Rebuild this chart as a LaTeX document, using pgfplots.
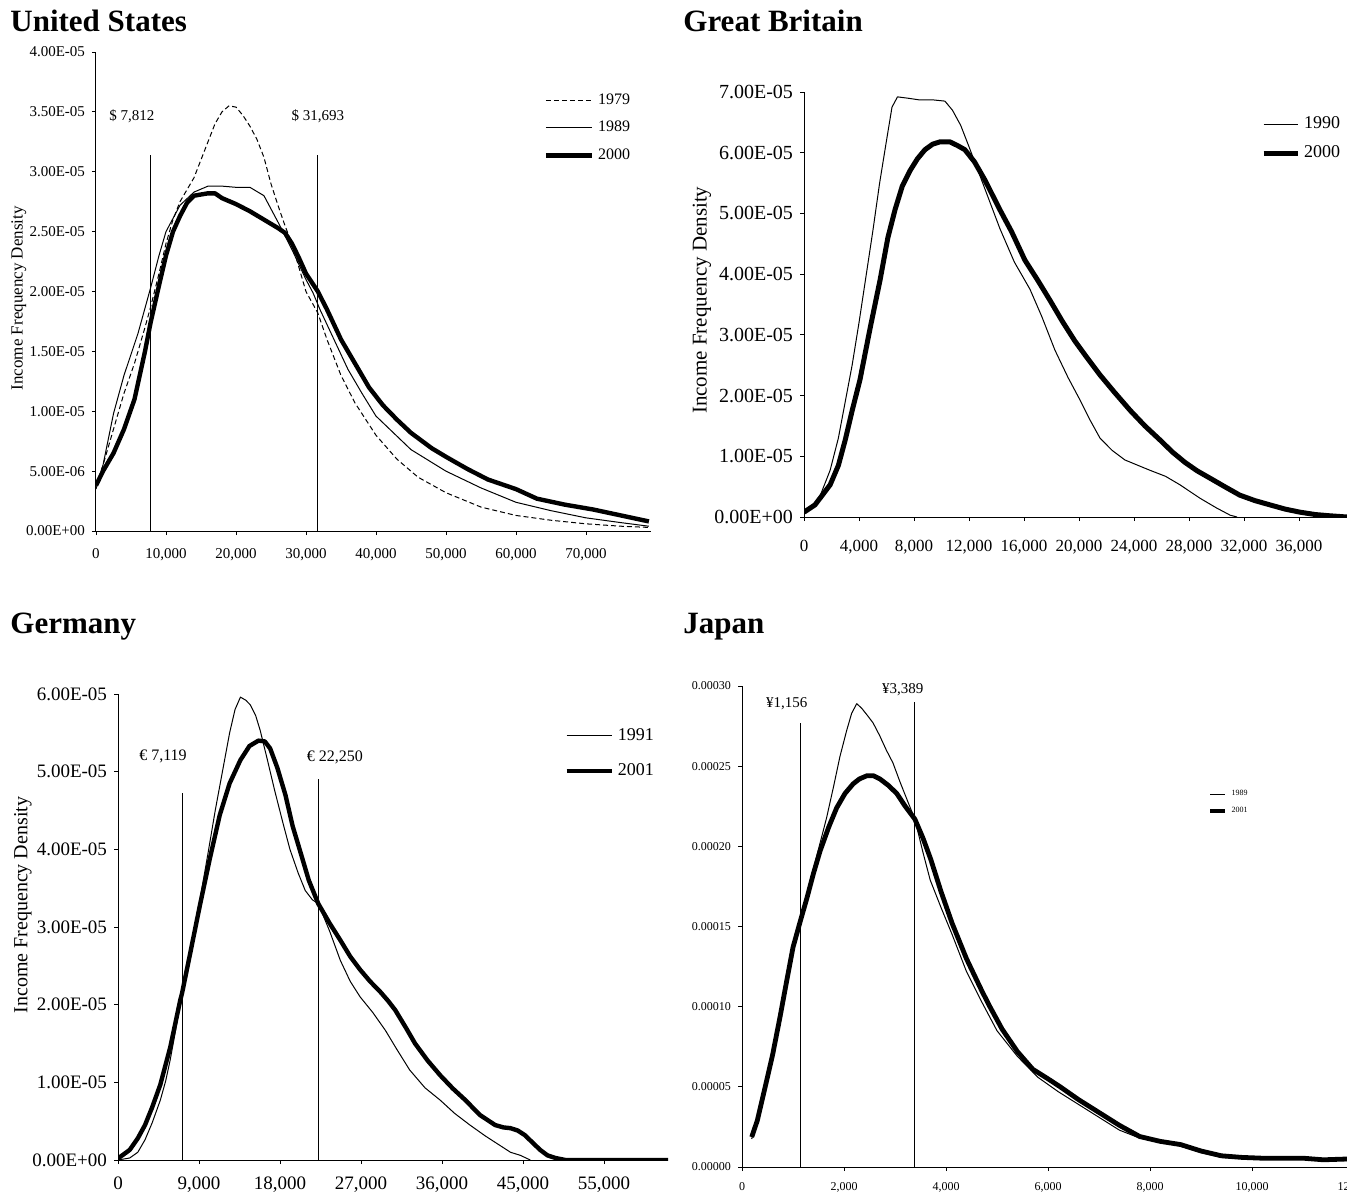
\documentclass[border=0pt]{standalone}
\usepackage{pgfplots}
\pgfplotsset{compat=1.18}
\usepackage{fontspec}
\setmainfont{Liberation Serif}

\pgfplotsset{
  excel/.style={
    scale only axis,
    anchor=south west,
    axis x line=bottom, axis y line=left,
    axis line style={-, black, line width=0.5pt},
    tick align=outside, major tick length=2pt,
    tick style={black, line width=0.4pt},
    scaled x ticks=false, scaled y ticks=false,
    ymin=0, xmin=0,
    legend cell align=left,
    line join=round,
  },
  thin/.style={black, line width=0.5pt},
  thick/.style={black, line width=2.2pt},
  vline/.style={black, line width=0.5pt, forget plot},
}

\begin{document}
\begin{tikzpicture}
\path[use as bounding box] (0,0) rectangle (673.5pt,-596.5pt);

% titles
\node[anchor=base west, font=\fontsize{15.5}{18}\selectfont\bfseries, inner sep=0pt] at (5pt,-16pt) {United States};
\node[anchor=base west, font=\fontsize{15.5}{18}\selectfont\bfseries, inner sep=0pt] at (341.5pt,-16pt) {Great Britain};
\node[anchor=base west, font=\fontsize{15.5}{18}\selectfont\bfseries, inner sep=0pt] at (5pt,-316.5pt) {Germany};
\node[anchor=base west, font=\fontsize{15.5}{18}\selectfont\bfseries, inner sep=0pt] at (341.5pt,-316.5pt) {Japan};

% ---------------- United States
\begin{axis}[excel,
  at={(48pt,-265.5pt)}, width=277.5pt, height=239.5pt,
  xmax=79300, ymax=0.00004,
  xtick={0,10000,20000,30000,40000,50000,60000,70000},
  xticklabels={0,{10,000},{20,000},{30,000},{40,000},{50,000},{60,000},{70,000}},
  ytick={0,0.000005,0.00001,0.000015,0.00002,0.000025,0.00003,0.000035,0.00004},
  yticklabels={0.00E+00,5.00E-06,1.00E-05,1.50E-05,2.00E-05,2.50E-05,3.00E-05,3.50E-05,4.00E-05},
  ticklabel style={font=\fontsize{7.5}{9}\selectfont},
  xticklabel style={yshift=-3pt},
  ylabel={Income Frequency Density},
  ylabel style={at={(axis description cs:-0.139,0.486)}, anchor=center, font=\fontsize{8.5}{10}\selectfont},
  legend style={at={(0.795,0.931)}, anchor=north west, draw=none, fill=none,
    font=\fontsize{8}{9}\selectfont, row sep=3pt},
  legend image code/.code={\draw[#1] (0pt,0pt) -- (23pt,0pt);},
]
\addplot[thin, dash pattern=on 2.5pt off 1.5pt] coordinates {
(0,3.8e-6) (1000,5.5e-6) (2500,8.5e-6) (4000,1.15e-5) (5500,1.4e-5) (7000,1.7e-5)
(7800,1.87e-5) (9000,2.15e-5) (10000,2.4e-5) (11000,2.6e-5) (12000,2.75e-5)
(13000,2.85e-5) (14000,2.95e-5) (15000,3.1e-5) (16000,3.25e-5) (17000,3.4e-5)
(18000,3.5e-5) (19000,3.55e-5) (20000,3.54e-5) (21000,3.47e-5) (22000,3.38e-5)
(23000,3.27e-5) (24000,3.12e-5) (25000,2.9e-5) (26000,2.72e-5) (27000,2.55e-5)
(28000,2.4e-5) (29000,2.2e-5) (30000,2.0e-5) (31700,1.82e-5) (33000,1.6e-5)
(35000,1.3e-5) (37000,1.07e-5) (40000,8e-6) (43000,6e-6) (46000,4.5e-6)
(50000,3.2e-6) (55000,2e-6) (60000,1.3e-6) (65000,0.9e-6) (70000,0.6e-6)
(75000,0.4e-6) (79000,0.3e-6)};
\addlegendentry{1979}
\addplot[thin] coordinates {
(0,3.5e-6) (1000,5.5e-6) (2500,9.8e-6) (4000,1.3e-5) (6000,1.65e-5) (7800,2.03e-5)
(9000,2.3e-5) (10000,2.5e-5) (12000,2.72e-5) (14000,2.83e-5) (16000,2.88e-5)
(18000,2.88e-5) (20000,2.87e-5) (22000,2.87e-5) (24000,2.8e-5) (26000,2.58e-5)
(28000,2.35e-5) (30000,2.1e-5) (31000,1.99e-5) (32000,1.85e-5) (34000,1.6e-5)
(36000,1.35e-5) (38000,1.15e-5) (40000,9.6e-6) (45000,6.8e-6) (50000,5e-6)
(55000,3.6e-6) (60000,2.4e-6) (65000,1.7e-6) (70000,1.1e-6) (75000,0.7e-6)
(79000,0.4e-6)};
\addlegendentry{1989}
\addplot[thick] coordinates {
(0,3.8e-6) (1000,5e-6) (2500,6.5e-6) (4000,8.5e-6) (5500,1.1e-5) (7000,1.5e-5)
(7800,1.74e-5) (9000,2.05e-5) (10000,2.3e-5) (11000,2.5e-5) (12000,2.63e-5)
(13000,2.74e-5) (14000,2.8e-5) (16000,2.82e-5) (17000,2.82e-5) (18000,2.78e-5)
(20000,2.73e-5) (22000,2.67e-5) (24000,2.6e-5) (26000,2.53e-5) (27000,2.49e-5)
(28000,2.4e-5) (29000,2.28e-5) (30000,2.15e-5) (31700,2.0e-5) (33000,1.85e-5)
(35000,1.6e-5) (37000,1.4e-5) (39000,1.2e-5) (41000,1.05e-5) (43000,9.3e-6)
(45000,8.2e-6) (48000,6.9e-6) (50000,6.2e-6) (53000,5.2e-6) (56000,4.3e-6)
(60000,3.5e-6) (63000,2.7e-6) (67000,2.2e-6) (71000,1.8e-6) (75000,1.3e-6)
(79000,0.8e-6)};
\addlegendentry{2000}
\addplot[vline] coordinates {(7812,0) (7812,3.14e-5)};
\addplot[vline] coordinates {(31693,0) (31693,3.14e-5)};
\node[font=\fontsize{7.5}{9}\selectfont] at (axis cs:5140,3.46e-5) {\$ 7,812};
\node[font=\fontsize{7.5}{9}\selectfont] at (axis cs:31700,3.46e-5) {\$ 31,693};
\end{axis}

% ---------------- Great Britain
\begin{axis}[excel,
  at={(402pt,-258.5pt)}, width=271.5pt, height=212.5pt,
  xmax=39500, ymax=0.00007,
  xtick={0,4000,8000,12000,16000,20000,24000,28000,32000,36000},
  xticklabels={0,{4,000},{8,000},{12,000},{16,000},{20,000},{24,000},{28,000},{32,000},{36,000}},
  ytick={0,0.00001,0.00002,0.00003,0.00004,0.00005,0.00006,0.00007},
  yticklabels={0.00E+00,1.00E-05,2.00E-05,3.00E-05,4.00E-05,5.00E-05,6.00E-05,7.00E-05},
  yticklabel style={font=\fontsize{10}{12}\selectfont},
  xticklabel style={font=\fontsize{8.5}{10}\selectfont, yshift=-6pt},
  ylabel={Income Frequency Density},
  ylabel style={at={(axis description cs:-0.188,0.51)}, anchor=center, font=\fontsize{10.5}{12}\selectfont},
  legend style={at={(0.83,0.962)}, anchor=north west, draw=none, fill=none,
    font=\fontsize{9}{10}\selectfont, row sep=3pt},
  legend image code/.code={\draw[#1] (0pt,0pt) -- (17pt,0pt);},
]
\addplot[thin] coordinates {
(0,0.8e-6) (1000,2.5e-6) (1900,7.7e-6) (2500,1.3e-5) (3000,1.9e-5) (3500,2.5e-5)
(4000,3.2e-5) (4500,3.95e-5) (5000,4.7e-5) (5500,5.5e-5) (6000,6.2e-5) (6400,6.75e-5)
(6800,6.92e-5) (7500,6.9e-5) (8400,6.87e-5) (9400,6.87e-5) (10250,6.85e-5)
(10800,6.7e-5) (11400,6.45e-5) (12000,6.1e-5) (13000,5.5e-5) (14250,4.75e-5)
(15300,4.2e-5) (16440,3.75e-5) (17300,3.3e-5) (18250,2.75e-5) (19200,2.3e-5)
(20070,1.93e-5) (20800,1.6e-5) (21530,1.3e-5) (22400,1.1e-5) (23340,9.4e-6)
(24300,8.5e-6) (25160,7.7e-6) (26300,6.7e-6) (27350,5.3e-6) (28800,3.1e-6)
(30000,1.5e-6) (31000,3e-7) (31500,0)};
\addlegendentry{1990}
\addplot[thick, line width=2.5pt] coordinates {
(0,0.8e-6) (800,2e-6) (1900,5.3e-6) (2500,8.5e-6) (3000,1.27e-5) (3500,1.75e-5)
(4070,2.26e-5) (4800,3.1e-5) (5530,3.9e-5) (6100,4.6e-5) (6620,5.06e-5)
(7150,5.45e-5) (7700,5.7e-5) (8250,5.9e-5) (8800,6.05e-5) (9350,6.14e-5)
(9900,6.18e-5) (10600,6.18e-5) (11150,6.12e-5) (11700,6.05e-5) (12400,5.85e-5)
(13160,5.55e-5) (14250,5.06e-5) (15100,4.7e-5) (16070,4.23e-5) (17000,3.9e-5)
(17890,3.57e-5) (18800,3.22e-5) (19700,2.9e-5) (20600,2.62e-5) (21530,2.34e-5)
(22600,2.05e-5) (23710,1.76e-5) (24800,1.5e-5) (25890,1.27e-5) (26800,1.07e-5)
(27710,9e-6) (28600,7.6e-6) (29530,6.4e-6) (30600,5e-6) (31700,3.6e-6)
(32800,2.7e-6) (33890,2e-6) (35000,1.3e-6) (36070,8e-7) (37200,4e-7)
(38250,2e-7) (39500,0)};
\addlegendentry{2000}
\end{axis}

% ---------------- Germany
\begin{axis}[excel,
  at={(59pt,-580pt)}, width=275pt, height=233pt,
  xmax=61100, ymax=0.00006,
  xtick={0,9000,18000,27000,36000,45000,54000},
  xticklabels={0,{9,000},{18,000},{27,000},{36,000},{45,000},{55,000}},
  ytick={0,0.00001,0.00002,0.00003,0.00004,0.00005,0.00006},
  yticklabels={0.00E+00,1.00E-05,2.00E-05,3.00E-05,4.00E-05,5.00E-05,6.00E-05},
  ticklabel style={font=\fontsize{9.5}{11}\selectfont},
  xticklabel style={yshift=-3pt},
  ylabel={Income Frequency Density},
  ylabel style={at={(axis description cs:-0.173,0.547)}, anchor=center, font=\fontsize{10}{12}\selectfont},
  legend style={at={(0.8,0.944)}, anchor=north west, draw=none, fill=none,
    font=\fontsize{9}{11}\selectfont, row sep=6pt},
  legend image code/.code={\draw[#1] (0pt,0pt) -- (22.5pt,0pt);},
]
\addplot[thin] coordinates {
(0,0) (1300,2.6e-7) (2200,1e-6) (3000,2.6e-6) (3800,4.8e-6) (4700,7.7e-6)
(5300,1.02e-5) (5800,1.29e-5) (6400,1.67e-5) (7119,2.15e-5) (8000,2.7e-5)
(9100,3.35e-5) (10000,3.95e-5) (10800,4.5e-5) (11600,5.0e-5) (12400,5.5e-5)
(13000,5.8e-5) (13600,5.96e-5) (14200,5.92e-5) (14700,5.86e-5) (15300,5.72e-5)
(15800,5.53e-5) (16600,5.15e-5) (17400,4.76e-5) (18300,4.35e-5) (19100,4e-5)
(20000,3.7e-5) (20800,3.47e-5) (21600,3.35e-5) (22250,3.3e-5) (23500,2.95e-5)
(24700,2.57e-5) (25800,2.3e-5) (26900,2.1e-5) (28300,1.9e-5) (29700,1.67e-5)
(31000,1.42e-5) (32400,1.16e-5) (34100,9.3e-6) (35800,7.7e-6) (37400,6e-6)
(39100,4.5e-6) (40800,3.1e-6) (42400,1.9e-6) (43600,1e-6) (44700,6e-7) (45800,0)};
\addlegendentry{1991}
\addplot[thick] coordinates {
(0,2e-7) (1300,1.3e-6) (2200,2.8e-6) (3000,4.5e-6) (3800,6.8e-6) (4700,9.7e-6)
(5800,1.45e-5) (6900,2.05e-5) (7119,2.15e-5) (8000,2.65e-5) (9100,3.28e-5)
(10200,3.88e-5) (11300,4.44e-5) (12400,4.85e-5) (13600,5.15e-5) (14600,5.33e-5)
(15600,5.4e-5) (16300,5.39e-5) (16900,5.3e-5) (17700,5.05e-5) (18600,4.7e-5)
(19400,4.3e-5) (20200,3.99e-5) (21200,3.6e-5) (22250,3.3e-5) (23500,3.05e-5)
(24700,2.83e-5) (25800,2.62e-5) (26900,2.45e-5) (28000,2.3e-5) (29100,2.17e-5)
(30000,2.05e-5) (30800,1.93e-5) (32000,1.7e-5) (33000,1.5e-5) (34400,1.28e-5)
(35800,1.09e-5) (37200,9.2e-6) (38600,7.7e-6) (40200,5.8e-6) (41900,4.5e-6)
(42800,4.2e-6) (43600,4.1e-6) (44400,3.8e-6) (45200,3.2e-6) (46000,2.3e-6)
(46900,1.3e-6) (47700,6e-7) (48600,2.6e-7) (49700,0) (61100,0)};
\addlegendentry{2001}
\addplot[vline] coordinates {(7119,0) (7119,4.72e-5)};
\addplot[vline] coordinates {(22250,0) (22250,4.9e-5)};
\node[font=\fontsize{8}{10}\selectfont] at (axis cs:5000,5.19e-5) {€ 7,119};
\node[font=\fontsize{8}{10}\selectfont] at (axis cs:24100,5.19e-5) {€ 22,250};
\end{axis}

% ---------------- Japan
\begin{axis}[excel, clip=false,
  at={(371pt,-583.5pt)}, width=306pt, height=240.5pt,
  xmax=12000, ymax=0.0003,
  xtick={0,2000,4000,6000,8000,10000,12000},
  xticklabels={0,{2,000},{4,000},{6,000},{8,000},{10,000},{12,000}},
  ytick={0,0.00005,0.0001,0.00015,0.0002,0.00025,0.0003},
  yticklabels={0.00000,0.00005,0.00010,0.00015,0.00020,0.00025,0.00030},
  ticklabel style={font=\fontsize{6}{7}\selectfont},
  xticklabel style={yshift=-2pt},
  legend style={at={(0.757,0.796)}, anchor=north west, draw=none, fill=none,
    font=\fontsize{4}{5}\selectfont, row sep=0pt, inner sep=1pt},
  legend image code/.code={\draw[#1] (0pt,0pt) -- (7.5pt,0pt);},
]
\addplot[thin] coordinates {
(190,1.75e-5) (300,2.9e-5) (484,5.4e-5) (600,7.0e-5) (745,9.35e-5) (870,1.15e-4)
(1000,1.37e-4) (1140,1.53e-4) (1275,1.68e-4) (1400,1.86e-4) (1530,2.02e-4)
(1660,2.18e-4) (1800,2.38e-4) (1920,2.56e-4) (2050,2.72e-4) (2150,2.83e-4)
(2250,2.89e-4) (2350,2.86e-4) (2450,2.82e-4) (2570,2.77e-4) (2700,2.69e-4)
(2830,2.6e-4) (2960,2.52e-4) (3100,2.4e-4) (3250,2.28e-4) (3389,2.17e-4)
(3550,1.96e-4) (3690,1.79e-4) (3900,1.62e-4) (4120,1.45e-4) (4400,1.22e-4)
(4700,1.03e-4) (5000,8.5e-5) (5400,6.9e-5) (5800,5.6e-5) (6200,4.7e-5)
(6600,3.9e-5) (7000,3.1e-5) (7400,2.3e-5) (7800,1.8e-5) (8200,1.6e-5)
(8600,1.3e-5) (9000,9e-6) (9400,6e-6) (10000,5e-6) (11000,5e-6) (11860,4e-6)};
\addlegendentry{1989}
\addplot[thick, line width=2.4pt] coordinates {
(190,1.87e-5) (300,2.9e-5) (484,5.4e-5) (600,7.0e-5) (745,9.35e-5) (870,1.15e-4)
(1000,1.37e-4) (1140,1.53e-4) (1275,1.68e-4) (1400,1.83e-4) (1530,1.97e-4)
(1700,2.12e-4) (1856,2.24e-4) (2020,2.33e-4) (2180,2.39e-4) (2300,2.42e-4)
(2445,2.44e-4) (2580,2.44e-4) (2706,2.42e-4) (2870,2.38e-4) (3033,2.33e-4)
(3200,2.25e-4) (3389,2.17e-4) (3550,2.05e-4) (3700,1.92e-4) (3900,1.72e-4)
(4120,1.52e-4) (4400,1.3e-4) (4700,1.1e-4) (4860,1.0e-4) (5100,8.6e-5)
(5400,7.2e-5) (5700,6.1e-5) (6000,5.5e-5) (6240,5.0e-5) (6600,4.2e-5)
(7000,3.4e-5) (7400,2.6e-5) (7800,1.9e-5) (8200,1.6e-5) (8600,1.4e-5)
(9000,1.0e-5) (9400,7e-6) (9800,6e-6) (10200,5.5e-6) (10600,5.5e-6)
(11000,5.5e-6) (11400,4.5e-6) (11860,5e-6)};
\addlegendentry{2001}
\addplot[vline] coordinates {(1156,0) (1156,2.77e-4)};
\addplot[vline] coordinates {(3389,0) (3389,2.9e-4)};
\node[font=\fontsize{7.5}{9}\selectfont] at (axis cs:875,2.89e-4) {¥1,156};
\node[font=\fontsize{7.5}{9}\selectfont] at (axis cs:3150,2.98e-4) {¥3,389};
\end{axis}
\end{tikzpicture}
\end{document}
